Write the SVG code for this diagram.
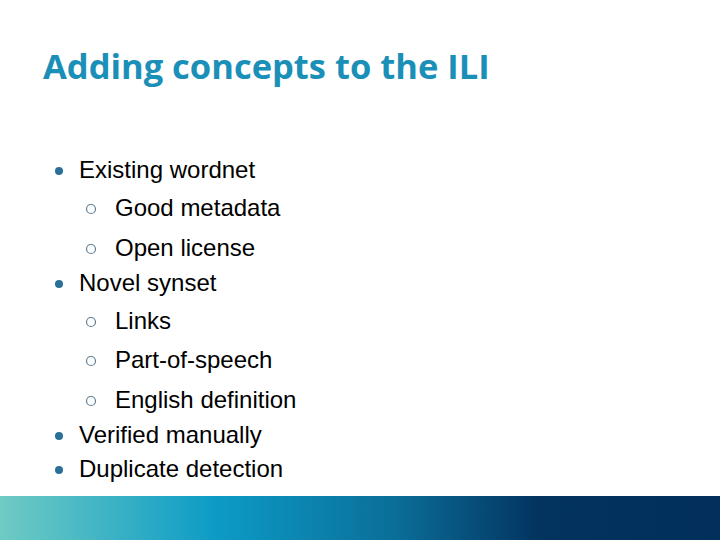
<svg xmlns="http://www.w3.org/2000/svg" width="720" height="540" viewBox="0 0 720 540">
<style>
.t{font-family:"Liberation Sans",Arial,sans-serif;font-size:24px;fill:#000}
.b{fill:#2a6f98}
.c{fill:none;stroke:#5a7d96;stroke-width:1.2}
</style>
<defs>
<linearGradient id="g" x1="0" y1="0" x2="1" y2="0">
<stop offset="0" stop-color="#6fcbc4"/>
<stop offset="0.3" stop-color="#0c9bc6"/>
<stop offset="0.55" stop-color="#0a6e98"/>
<stop offset="0.75" stop-color="#03335f"/>
<stop offset="1" stop-color="#022f5b"/>
</linearGradient>
</defs>
<rect width="720" height="540" fill="#fff"/>
<rect y="496" width="720" height="44" fill="url(#g)"/>
<text x="43" y="79" font-family="'Open Sans',sans-serif" font-weight="bold" font-size="34.5" fill="#1a8fb8">Adding concepts to the ILI</text>
<circle class="b" cx="59" cy="171" r="4"/><text class="t" x="79" y="178">Existing wordnet</text>
<circle class="c" cx="91" cy="209" r="4.5"/><text class="t" x="115" y="216">Good metadata</text>
<circle class="c" cx="91" cy="249" r="4.5"/><text class="t" x="115" y="256">Open license</text>
<circle class="b" cx="59" cy="284" r="4"/><text class="t" x="79" y="291">Novel synset</text>
<circle class="c" cx="91" cy="322" r="4.5"/><text class="t" x="115" y="329">Links</text>
<circle class="c" cx="91" cy="361" r="4.5"/><text class="t" x="115" y="368">Part-of-speech</text>
<circle class="c" cx="91" cy="401" r="4.5"/><text class="t" x="115" y="408">English definition</text>
<circle class="b" cx="59" cy="436" r="4"/><text class="t" x="79" y="443">Verified manually</text>
<circle class="b" cx="59" cy="470" r="4"/><text class="t" x="79" y="477">Duplicate detection</text>
</svg>
